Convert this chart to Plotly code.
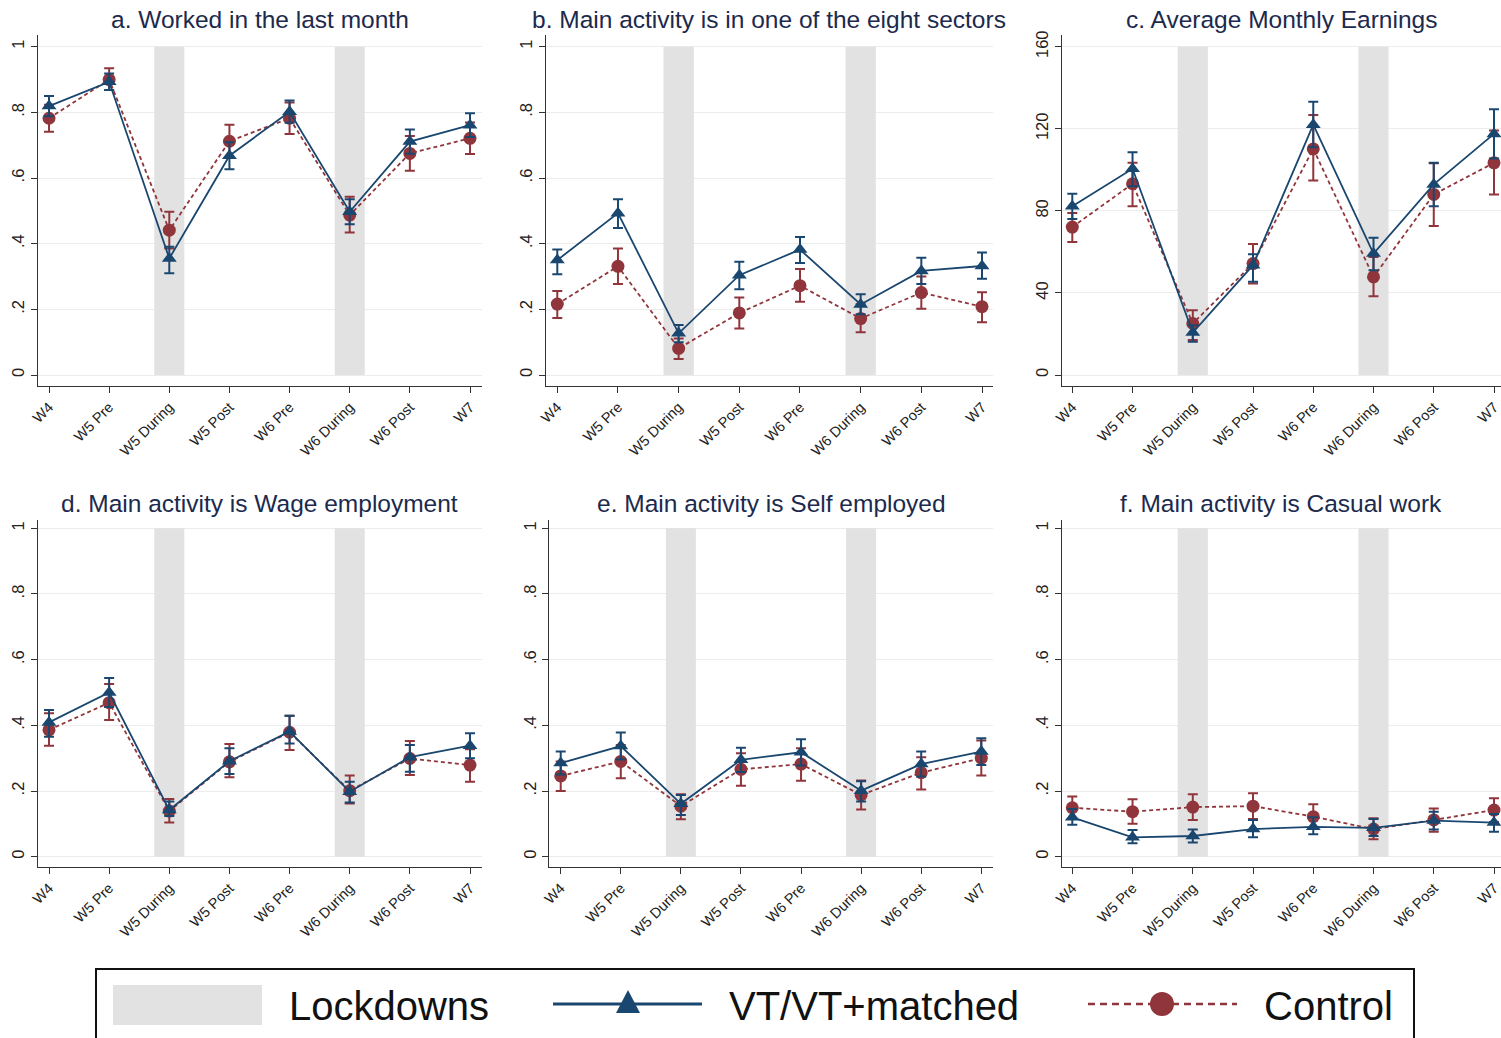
import plotly.graph_objects as go

W, H = 1501, 1038

categories = ["W4", "W5 Pre", "W5 During", "W5 Post", "W6 Pre", "W6 During", "W6 Post", "W7"]
lockdown_idx = [2, 5]

titles = [
    "a. Worked in the last month",
    "b. Main activity is in one of the eight sectors",
    "c. Average Monthly Earnings",
    "d. Main activity is Wage employment",
    "e. Main activity is Self employed",
    "f. Main activity is Casual work",
]

# ---- Panel a ----
a_vt = [0.819, 0.893, 0.355, 0.668, 0.802, 0.497, 0.711, 0.761]
a_vt_lo = [0.788, 0.868, 0.310, 0.627, 0.768, 0.459, 0.674, 0.725]
a_vt_hi = [0.850, 0.918, 0.391, 0.709, 0.836, 0.535, 0.748, 0.797]
a_c = [0.782, 0.900, 0.441, 0.712, 0.782, 0.487, 0.675, 0.721]
a_c_lo = [0.741, 0.868, 0.385, 0.662, 0.734, 0.434, 0.622, 0.673]
a_c_hi = [0.823, 0.934, 0.497, 0.762, 0.830, 0.543, 0.728, 0.769]

# ---- Panel b ----
b_vt = [0.350, 0.493, 0.127, 0.304, 0.382, 0.215, 0.317, 0.332]
b_vt_lo = [0.307, 0.448, 0.100, 0.261, 0.341, 0.185, 0.277, 0.293]
b_vt_hi = [0.382, 0.535, 0.152, 0.345, 0.420, 0.246, 0.357, 0.373]
b_c = [0.216, 0.331, 0.081, 0.189, 0.272, 0.172, 0.251, 0.208]
b_c_lo = [0.174, 0.277, 0.049, 0.142, 0.223, 0.130, 0.202, 0.161]
b_c_hi = [0.256, 0.385, 0.111, 0.236, 0.323, 0.216, 0.300, 0.252]

# ---- Panel c ----
c_vt = [82.2, 100.5, 20.7, 53.5, 122.0, 59.2, 92.9, 117.5]
c_vt_lo = [76.0, 92.0, 16.2, 45.4, 111.0, 51.0, 82.2, 105.5]
c_vt_hi = [88.3, 108.6, 24.3, 58.8, 133.2, 66.9, 103.5, 129.5]
c_c = [72.1, 93.2, 25.1, 54.3, 110.2, 47.8, 88.0, 103.4]
c_c_lo = [64.8, 82.3, 17.0, 44.6, 94.8, 38.4, 72.6, 88.0]
c_c_hi = [79.0, 103.4, 31.6, 63.9, 126.7, 57.5, 103.2, 119.1]

# ---- Panel d ----
d_vt = [0.409, 0.500, 0.142, 0.291, 0.381, 0.198, 0.303, 0.338]
d_vt_lo = [0.365, 0.456, 0.124, 0.252, 0.345, 0.165, 0.259, 0.300]
d_vt_hi = [0.447, 0.544, 0.168, 0.330, 0.429, 0.228, 0.340, 0.376]
d_c = [0.386, 0.469, 0.139, 0.289, 0.379, 0.201, 0.299, 0.279]
d_c_lo = [0.338, 0.416, 0.104, 0.242, 0.325, 0.162, 0.249, 0.228]
d_c_hi = [0.437, 0.526, 0.176, 0.343, 0.429, 0.247, 0.352, 0.327]

# ---- Panel e ----
e_vt = [0.285, 0.337, 0.161, 0.295, 0.318, 0.201, 0.282, 0.320]
e_vt_lo = [0.250, 0.296, 0.127, 0.258, 0.278, 0.168, 0.244, 0.279]
e_vt_hi = [0.320, 0.378, 0.188, 0.332, 0.358, 0.230, 0.320, 0.361]
e_c = [0.246, 0.290, 0.154, 0.266, 0.282, 0.188, 0.256, 0.300]
e_c_lo = [0.200, 0.239, 0.114, 0.216, 0.231, 0.144, 0.205, 0.247]
e_c_hi = [0.290, 0.340, 0.190, 0.315, 0.330, 0.232, 0.303, 0.354]

# ---- Panel f ----
f_vt = [0.120, 0.059, 0.063, 0.084, 0.091, 0.088, 0.110, 0.104]
f_vt_lo = [0.097, 0.041, 0.043, 0.059, 0.068, 0.063, 0.083, 0.076]
f_vt_hi = [0.145, 0.081, 0.083, 0.112, 0.120, 0.115, 0.137, 0.130]
f_c = [0.149, 0.137, 0.151, 0.154, 0.122, 0.084, 0.112, 0.142]
f_c_lo = [0.115, 0.100, 0.112, 0.115, 0.086, 0.053, 0.076, 0.106]
f_c_hi = [0.183, 0.175, 0.190, 0.193, 0.160, 0.117, 0.147, 0.178]

panels = [
    (a_vt, a_vt_lo, a_vt_hi, a_c, a_c_lo, a_c_hi, 1.0),
    (b_vt, b_vt_lo, b_vt_hi, b_c, b_c_lo, b_c_hi, 1.0),
    (c_vt, c_vt_lo, c_vt_hi, c_c, c_c_lo, c_c_hi, 160.0),
    (d_vt, d_vt_lo, d_vt_hi, d_c, d_c_lo, d_c_hi, 1.0),
    (e_vt, e_vt_lo, e_vt_hi, e_c, e_c_lo, e_c_hi, 1.0),
    (f_vt, f_vt_lo, f_vt_hi, f_c, f_c_lo, f_c_hi, 1.0),
]

prop_ticks = [0, 0.2, 0.4, 0.6, 0.8, 1]
prop_labels = ["0", ".2", ".4", ".6", ".8", "1"]
earn_ticks = [0, 40, 80, 120, 160]
earn_labels = ["0", "40", "80", "120", "160"]

NAVY = "#1a476f"
MAROON = "#90353b"
BAND = "#e2e2e2"
TITLE_C = "#1c2a4d"
FONT = "Liberation Sans, Arial, Helvetica, sans-serif"

# pixel geometry: (left, x_W4, x_W7, right)
xgeo = [
    (37.7, 49.0, 470.0, 481.5),
    (546.0, 557.3, 982.0, 992.7),
    (1061.7, 1072.3, 1494.0, 1501.0),
    (37.7, 49.0, 470.0, 481.5),
    (549.3, 560.7, 981.3, 992.7),
    (1061.7, 1072.3, 1494.0, 1501.0),
]
# (bottom axis px, zero px, one px, top px)
ygeo_top = (386.0, 375.0, 46.7, 35.0)
ygeo_bot = (867.0, 856.7, 528.3, 520.0)

fig = go.Figure()
layout = dict(
    width=W, height=H, margin=dict(l=0, r=0, t=0, b=0, pad=0, autoexpand=False),
    paper_bgcolor="white", plot_bgcolor="white", showlegend=False,
    font=dict(family=FONT, color="#222"),
)
shapes = []
annotations = []

for i, (vt, vlo, vhi, c, clo, chi, ymax) in enumerate(panels):
    n = i + 1
    xs = "x" if n == 1 else f"x{n}"
    ys = "y" if n == 1 else f"y{n}"
    left, x0, x7, right = xgeo[i]
    s = (x7 - x0) / 7
    xr = [(left - x0) / s, 7 + (right - x7) / s]
    xd = [left / W, min(right / W, 1.0)]
    yb, yz, yo, yt = ygeo_top if i < 3 else ygeo_bot
    u = (yz - yo)
    yr = [-(yb - yz) / u * ymax, (1 + (yo - yt) / u) * ymax]
    yd = [1 - yb / H, 1 - yt / H]

    xidx = list(range(len(categories)))
    fig.add_trace(go.Scatter(
        x=xidx, y=c, xaxis=xs, yaxis=ys, mode="lines+markers",
        line=dict(color=MAROON, width=1.8, dash="4px,3px"),
        marker=dict(symbol="circle", size=13, color=MAROON),
        error_y=dict(type="data", symmetric=False,
                     array=[h - v for h, v in zip(chi, c)],
                     arrayminus=[v - l for v, l in zip(c, clo)],
                     color=MAROON, thickness=2, width=5),
        name="Control"))
    fig.add_trace(go.Scatter(
        x=xidx, y=vt, xaxis=xs, yaxis=ys, mode="lines+markers",
        line=dict(color=NAVY, width=1.8),
        marker=dict(symbol="triangle-up", size=13, color=NAVY),
        error_y=dict(type="data", symmetric=False,
                     array=[h - v for h, v in zip(vhi, vt)],
                     arrayminus=[v - l for v, l in zip(vt, vlo)],
                     color=NAVY, thickness=2, width=5),
        name="VT/VT+matched"))

    for k in lockdown_idx:
        shapes.append(dict(type="rect", xref=xs, yref=ys, x0=k - 0.25, x1=k + 0.25,
                           y0=0, y1=ymax, fillcolor=BAND, line=dict(width=0), layer="between"))

    ticks = earn_ticks if ymax > 1 else prop_ticks
    labels = earn_labels if ymax > 1 else prop_labels
    xkey = "xaxis" if n == 1 else f"xaxis{n}"
    ykey = "yaxis" if n == 1 else f"yaxis{n}"
    layout[xkey] = dict(domain=xd, range=xr, anchor=ys, tickvals=xidx, ticktext=categories,
                        tickangle=-45, tickfont=dict(size=14.5, color="#222"),
                        showgrid=False, zeroline=False, showline=True, linecolor="#333",
                        linewidth=1.2, ticks="outside", ticklen=6, tickcolor="#333",
                        automargin=False, ticklabeloverflow="allow")
    layout[ykey] = dict(domain=yd, range=yr, anchor=xs, tickvals=ticks, ticktext=labels,
                        tickangle=-90, tickfont=dict(size=16.5, color="#222"),
                        showgrid=True, gridcolor="#ececec", gridwidth=1, zeroline=False,
                        showline=True, linecolor="#333", linewidth=1.2,
                        ticks="outside", ticklen=6, tickcolor="#333",
                        automargin=False, ticklabeloverflow="allow")
    annotations.append(dict(text=titles[i], xref="paper", yref="paper",
                            x=(left + right) / 2 / W, y=1 - (20 if i < 3 else 503) / H,
                            xanchor="center", yanchor="middle", showarrow=False,
                            font=dict(size=24.5, color=TITLE_C, family=FONT)))

# ---- legend box (decorative) ----
def px(x):
    return x / W

def py(y):
    return 1 - y / H

shapes.append(dict(type="rect", xref="paper", yref="paper", x0=px(96), x1=px(1414),
                   y0=py(1060), y1=py(969), line=dict(color="#111", width=2),
                   fillcolor="rgba(0,0,0,0)"))
shapes.append(dict(type="rect", xref="paper", yref="paper", x0=px(113), x1=px(262),
                   y0=py(1025), y1=py(985), line=dict(width=0), fillcolor=BAND))
shapes.append(dict(type="line", xref="paper", yref="paper", x0=px(553), x1=px(702),
                   y0=py(1004), y1=py(1004), line=dict(color=NAVY, width=3)))
shapes.append(dict(type="path", xref="paper", yref="paper",
                   path=f"M {px(628)} {py(990)} L {px(640)} {py(1013)} L {px(616)} {py(1013)} Z",
                   fillcolor=NAVY, line=dict(width=0)))
shapes.append(dict(type="line", xref="paper", yref="paper", x0=px(1088), x1=px(1237),
                   y0=py(1004), y1=py(1004), line=dict(color=MAROON, width=2.5, dash="7px,5px")))
shapes.append(dict(type="circle", xref="paper", yref="paper", x0=px(1150), x1=px(1174),
                   y0=py(1016), y1=py(992), fillcolor=MAROON, line=dict(width=0)))
for txt, x in [("Lockdowns", 287), ("VT/VT+matched", 727), ("Control", 1262)]:
    annotations.append(dict(text=txt, xref="paper", yref="paper", x=px(x), y=py(1006),
                            xanchor="left", yanchor="middle", showarrow=False,
                            font=dict(size=40, color="#111", family=FONT)))

layout["shapes"] = shapes
layout["annotations"] = annotations
fig.update_layout(**layout)
fig.write_html("out.html")
